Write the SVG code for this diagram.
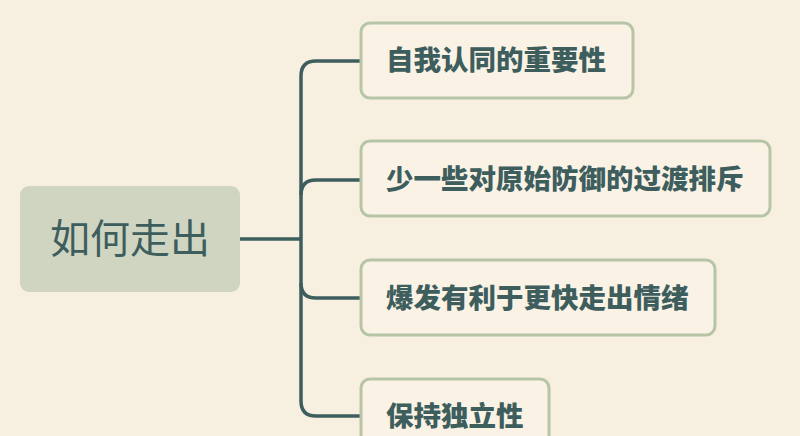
<svg xmlns="http://www.w3.org/2000/svg" width="800" height="436" viewBox="0 0 800 436">
<style>
.bg{fill:#f7f0e1}
.root rect{fill:#d0d5c1}
.root text{font-family:"Noto Sans CJK SC","Noto Sans",sans-serif;font-size:40px;fill:#3e5e5e;text-anchor:middle}
.child rect{fill:#f9f2e5;stroke:#b7c5a7;stroke-width:3}
.child text{font-family:"Noto Sans CJK SC","Noto Sans",sans-serif;font-size:27.5px;font-weight:900;fill:#3e5e5e}
.conn path{fill:none;stroke:#3e5e5e;stroke-width:3.5;stroke-linecap:butt}
</style>
<rect class="bg" x="0" y="0" width="800" height="436"/>
<g id="connectors" class="conn">
<path d="M240 239 H301" stroke-width="4.5"/>
<path d="M360 61 H316 Q301 61 301 76 V401 Q301 416 316 416 H360"/>
<path d="M301 195 Q301 180 316 180 H360"/>
<path d="M301 283 Q301 298 316 298 H360"/>
</g>
<g id="root" class="root">
<rect x="20" y="186" width="220" height="106" rx="9"/>
<text x="130" y="253">如何走出</text>
</g>
<g id="n1" class="child">
<rect x="361" y="23" width="272" height="75" rx="9"/>
<text x="386" y="70">自我认同的重要性</text>
</g>
<g id="n2" class="child">
<rect x="361" y="141" width="409" height="75" rx="9"/>
<text x="386" y="189">少一些对原始防御的过渡排斥</text>
</g>
<g id="n3" class="child">
<rect x="361" y="260" width="354" height="75" rx="9"/>
<text x="386" y="308">爆发有利于更快走出情绪</text>
</g>
<g id="n4" class="child">
<rect x="361" y="379" width="188" height="75" rx="9"/>
<text x="386" y="426">保持独立性</text>
</g>
</svg>
